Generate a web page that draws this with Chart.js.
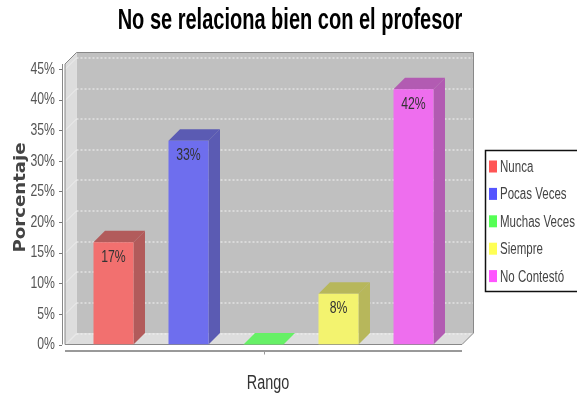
<!DOCTYPE html>
<html><head><meta charset="utf-8">
<style>html,body{margin:0;padding:0;background:#fff}#w{width:577px;height:396px;overflow:hidden}#c{filter:blur(0.4px)}</style>
<script src="https://cdn.jsdelivr.net/npm/chart.js@4/dist/chart.umd.min.js"></script>
</head><body><div id="w"><canvas id="c" width="577" height="396"></canvas></div>
<script>
const categories = [""];
const seriesNames = ["Nunca", "Pocas Veces", "Muchas Veces", "Siempre", "No Contestó"];
const seriesValues = [16.7, 33.3, 0, 8.3, 41.7];
const frontColors = ["#F2706F", "#6E6EEE", "#66F066", "#F3F36F", "#EE6EEE"];
const sideColors = ["#B25B5B", "#5B5BB3", "#5BB35B", "#B7B75B", "#B25BB2"];
const topColors = ["#B25B5B", "#5B5BB3", "#66F066", "#B7B75B", "#B25BB2"];
const legendColors = ["#FF5555", "#5555FF", "#55FF55", "#FFFF55", "#FF55FF"];
const yAxisTitle = "Porcentaje";
const xAxisTitle = "Rango";
const SANS = '"Liberation Sans", sans-serif';
const DEPTH = 11.5;

function poly(ctx, pts, fill, stroke) {
  ctx.beginPath();
  pts.forEach((p, i) => i ? ctx.lineTo(p[0], p[1]) : ctx.moveTo(p[0], p[1]));
  ctx.closePath();
  if (fill) { ctx.fillStyle = fill; ctx.fill(); }
  if (stroke) { ctx.strokeStyle = stroke; ctx.lineWidth = 1; ctx.stroke(); }
}

const scene = {
  id: "scene",
  afterLayout(chart) {
    // Title spans the whole picture, not only the plot side of the legend.
    chart.titleBlock.left = 3;
    chart.titleBlock.right = 577;
  },
  beforeDraw(chart) {
    // The reference's text is condensed: squeeze every string horizontally.
    const c = chart.ctx;
    if (c._narrowed) return;
    c._narrowed = true;
    const orig = c.fillText.bind(c);
    c.fillText = (t, x, y) => {
      const f = c.font.includes("DejaVu") ? 1 : c.font.includes("bold") ? 0.667 : 0.72;
      c.save();
      c.translate(x, y);
      c.scale(f, 1);
      orig(t, 0, 0);
      c.restore();
    };
  },
  beforeDatasetsDraw(chart) {
    const { ctx, chartArea: a, scales } = chart;
    const d = DEPTH, y = scales.y;
    ctx.save();
    poly(ctx, [[a.left + d, a.top - d], [a.right + d, a.top - d], [a.right + d, a.bottom - d], [a.left + d, a.bottom - d]], "#C0C0C0");
    poly(ctx, [[a.left, a.top], [a.left + d, a.top - d], [a.left + d, a.bottom - d], [a.left, a.bottom]], "#DDDDDD");
    poly(ctx, [[a.left, a.bottom], [a.left + d, a.bottom - d], [a.right + d, a.bottom - d], [a.right, a.bottom]], "#DDDDDD");
    y.ticks.forEach(t => {
      const py = Math.round(y.getPixelForValue(t.value)) + 0.5;
      ctx.strokeStyle = "rgba(255,255,255,0.45)";
      ctx.lineWidth = 1;
      ctx.beginPath(); ctx.moveTo(a.left, py); ctx.lineTo(a.left + d, py - d); ctx.stroke();
      ctx.strokeStyle = "#F4F4F4";
      ctx.setLineDash([2, 2]);
      ctx.beginPath(); ctx.moveTo(a.left + d, py - d); ctx.lineTo(a.right + d, py - d); ctx.stroke();
      ctx.setLineDash([]);
      ctx.strokeStyle = "#777";
      ctx.beginPath(); ctx.moveTo(59, py); ctx.lineTo(62, py); ctx.stroke();
    });
    poly(ctx, [[a.left, a.top], [a.left + d, a.top - d], [a.right + d, a.top - d], [a.right + d, a.bottom - d], [a.right, a.bottom], [a.left, a.bottom]], null, "#888888");
    ctx.strokeStyle = "#888888"; ctx.lineWidth = 1;
    ctx.beginPath(); ctx.moveTo(62.5, a.top); ctx.lineTo(62.5, a.bottom); ctx.stroke();
    ctx.lineWidth = 2;
    ctx.strokeStyle = "#999999";
    ctx.beginPath(); ctx.moveTo(a.left, a.bottom + 6.5); ctx.lineTo(a.right, a.bottom + 6.5); ctx.stroke();
    ctx.lineWidth = 1;
    const cx = Math.round(scales.x.getPixelForValue(0)) + 0.5;
    ctx.beginPath(); ctx.moveTo(cx, a.bottom + 7); ctx.lineTo(cx, a.bottom + 10); ctx.stroke();
    chart.data.datasets.forEach((ds, i) => {
      const b = chart.getDatasetMeta(i).data[0];
      const l = b.x - b.width / 2, r = b.x + b.width / 2;
      poly(ctx, [[r, b.y], [r + d, b.y - d], [r + d, b.base - d], [r, b.base]], sideColors[i]);
      poly(ctx, [[l, b.y], [l + d, b.y - d], [r + d, b.y - d], [r, b.y]], topColors[i]);
    });
    ctx.restore();
  },
  afterDatasetsDraw(chart) {
    const { ctx } = chart;
    ctx.save();
    ctx.font = "17px " + SANS;
    ctx.fillStyle = "#333333";
    ctx.textAlign = "center"; ctx.textBaseline = "middle";
    chart.data.datasets.forEach((ds, i) => {
      const v = ds.data[0];
      if (!v) return;
      const b = chart.getDatasetMeta(i).data[0];
      ctx.fillText(Math.round(v) + "%", b.x, b.y + 15);
    });
    const L = { x: 485.5, y: 150.5, w: 100, h: 141, rowY: 166.5, rowH: 27.4 };
    ctx.fillStyle = "#fff";
    ctx.strokeStyle = "#111"; ctx.lineWidth = 1.5;
    ctx.fillRect(L.x, L.y, L.w, L.h);
    ctx.strokeRect(L.x, L.y, L.w, L.h);
    ctx.font = "16px " + SANS;
    ctx.textAlign = "left";
    seriesNames.forEach((name, i) => {
      const cy = L.rowY + i * L.rowH;
      ctx.fillStyle = legendColors[i];
      ctx.fillRect(489, cy - 6, 8, 12);
      ctx.fillStyle = "#444444";
      ctx.fillText(name, 500, cy + 1);
    });
    // x-axis title
    ctx.font = "20px " + SANS;
    ctx.fillStyle = "#333333";
    ctx.textAlign = "center"; ctx.textBaseline = "alphabetic";
    ctx.fillText(xAxisTitle, 268, 389);
    // y-axis title: the reference stretches it along its length
    ctx.translate(24.5, 197.5);
    ctx.rotate(-Math.PI / 2);
    ctx.scale(1.21, 1);
    ctx.font = 'bold 15px "DejaVu Sans"';
    ctx.fillStyle = "#444444";
    ctx.fillText(yAxisTitle, 0, 0);
    ctx.restore();
  }
};

new Chart(document.getElementById("c"), {
  type: "bar",
  data: {
    labels: categories,
    datasets: seriesNames.map((n, i) => ({
      label: n,
      data: [seriesValues[i]],
      backgroundColor: frontColors[i],
      borderWidth: 0,
      categoryPercentage: 0.9446,
      barPercentage: 0.5333
    }))
  },
  options: {
    responsive: false,
    animation: false,
    devicePixelRatio: 1,
    layout: { padding: { top: 0, left: 0, right: 115, bottom: 0 } },
    plugins: {
      legend: { display: false },
      tooltip: { enabled: false },
      title: {
        display: true,
        text: "No se relaciona bien con el profesor",
        color: "#000000",
        font: { family: SANS, size: 30, weight: "bold", lineHeight: 1.2 },
        padding: { top: 3, bottom: 25 }
      }
    },
    scales: {
      x: {
        grid: { display: false },
        border: { display: false },
        ticks: { display: false },
        afterFit(s) { s.height = 51.5; }
      },
      y: {
        min: 0, max: 45.83,
        grid: { display: false },
        border: { display: false },
        ticks: {
          stepSize: 5, includeBounds: false, color: "#555555", padding: 2,
          font: { family: SANS, size: 17 },
          callback: v => v + "%"
        },
        afterFit(s) { s.width = 65; }
      }
    }
  },
  plugins: [scene]
});
</script></body></html>
